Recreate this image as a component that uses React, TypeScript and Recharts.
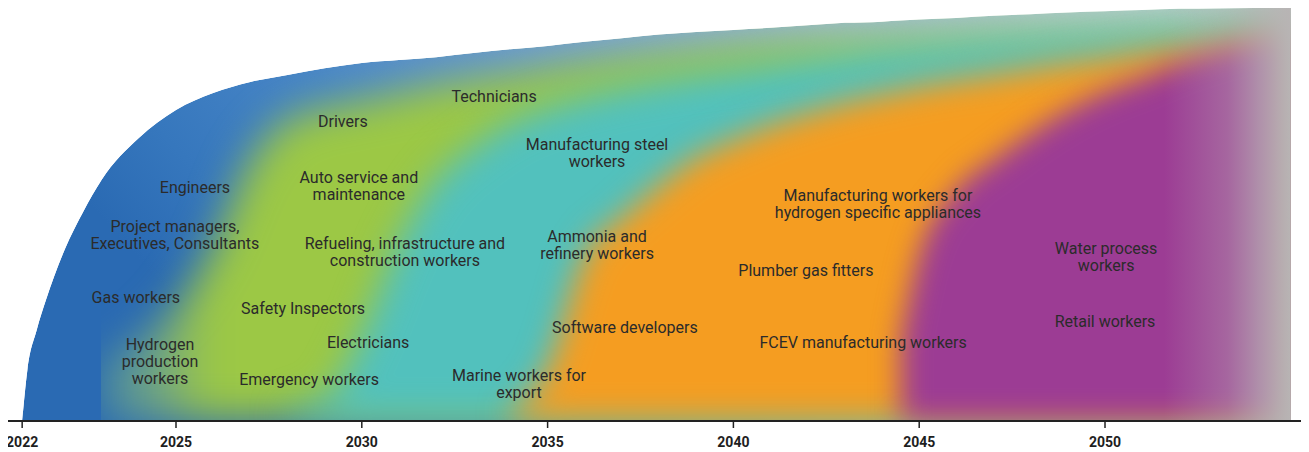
import { ComposedChart, Area, Scatter, XAxis, YAxis } from 'recharts'

// x positions on the year axis (the first point is the "2022" start of the axis)
const YEARS = [
  2020.86, 2021, 2021.25, 2021.5, 2022, 2022.5, 2023, 2024, 2025, 2026, 2027, 2028, 2029, 2030,
  2031, 2032, 2033, 2034, 2035, 2036, 2037, 2038, 2039, 2040, 2041, 2042, 2043, 2044, 2044.5,
  2045, 2046, 2047, 2048, 2049, 2050, 2051, 2052, 2053, 2054, 2055,
]

// outer envelope of the workforce shape
const ENVELOPE = [
  0, 12.3, 22.0, 29.3, 41.4, 50.6, 58.4, 68.5, 75.3, 79.4, 82.1, 83.8, 85.4, 86.7, 87.4, 88.1,
  89.1, 90.0, 90.8, 91.8, 92.7, 93.6, 94.2, 94.7, 95.2, 95.8, 96.4, 96.7, 97.0, 97.2, 97.6, 98.1,
  98.5, 98.9, 99.2, 99.5, 99.8, 99.9, 100, 100,
]

// each wave starts later; values run to 2055
const GREEN = [
  14.3, 19.6, 28.1, 41.9, 62.7, 72.9, 75.8, 77.5, 79.4, 81.4, 82.8, 84.0, 85.5, 86.9, 88.1, 89.1,
  90.1, 91.0, 91.8, 92.7, 93.2, 93.7, 93.9, 94.2, 94.7, 95.4, 95.9, 96.4, 96.9, 97.3, 97.8, 98.3,
  99.0, 99.5,
]
const TEAL = [
  2.7, 5.1, 20.8, 43.3, 58.4, 66.3, 72.2, 75.8, 78.5, 80.6, 82.3, 83.8, 85.0, 86.2, 87.4, 88.4,
  89.6, 89.8, 90.3, 91.0, 91.8, 92.3, 93.0, 93.5, 94.2, 94.9, 95.6, 96.4, 97.1,
]
const ORANGE = [
  2.7, 12.8, 40.2, 49.2, 57.1, 63.9, 68.0, 71.7, 74.6, 77.2, 79.2, 80.1, 81.1, 82.6, 84.0, 85.5,
  86.9, 88.1, 89.6, 90.8, 92.0, 93.5, 94.7,
]
const PURPLE = [19.6, 40.2, 55.9, 63.2, 69.7, 75.3, 79.7, 83.1, 86.9, 89.8, 92.0, 93.5]

const TICK_POS = [2020.86, 2025, 2030, 2035, 2040, 2045, 2050]
const TICK_LABELS = ['2022', '2025', '2030', '2035', '2040', '2045', '2050']

const LABEL_TEXT = [
  ['Technicians'],
  ['Drivers'],
  ['Manufacturing steel', 'workers'],
  ['Engineers'],
  ['Auto service and', 'maintenance'],
  ['Manufacturing workers for', 'hydrogen specific appliances'],
  ['Project managers,', 'Executives, Consultants'],
  ['Refueling, infrastructure and', 'construction workers'],
  ['Ammonia and', 'refinery workers'],
  ['Water process', 'workers'],
  ['Plumber gas fitters'],
  ['Gas workers'],
  ['Safety Inspectors'],
  ['Software developers'],
  ['Retail workers'],
  ['Electricians'],
  ['FCEV manufacturing workers'],
  ['Hydrogen', 'production', 'workers'],
  ['Emergency workers'],
  ['Marine workers for', 'export'],
]
const LABEL_YEAR = [
  2033.56, 2029.49, 2036.33, 2025.51, 2029.92, 2043.89, 2024.97, 2031.16, 2036.33, 2050.03,
  2041.95, 2023.92, 2028.42, 2037.08, 2050.0, 2030.17, 2043.49, 2024.57, 2028.58, 2034.23,
]
const LABEL_LEVEL = [
  78.5, 72.4, 64.8, 56.4, 56.8, 52.4, 44.8, 40.8, 42.5, 39.6, 36.3, 29.8, 27.1, 22.5, 24.0, 18.9,
  18.9, 14.3, 9.9, 8.8,
]

const pad = (vals: number[]) => [...Array(YEARS.length - vals.length).fill(null), ...vals]
const green = pad(GREEN)
const teal = pad(TEAL)
const orange = pad(ORANGE)
const purple = pad(PURPLE)

const rows = YEARS.map((year, i) => ({
  year,
  env: ENVELOPE[i],
  green: green[i],
  teal: teal[i],
  orange: orange[i],
  purple: purple[i],
  mask: [ENVELOPE[i], 100],
}))

const labels = LABEL_TEXT.map((lines, i) => ({
  year: LABEL_YEAR[i],
  level: LABEL_LEVEL[i],
  lines,
}))

function JobLabel(props: any) {
  const { cx, cy, payload } = props
  const lines: string[] = payload.lines
  const lh = 17
  const top = cy - ((lines.length - 1) * lh) / 2 + 5
  return (
    <text textAnchor="middle" fontFamily="Roboto, sans-serif" fontSize={16} fill="#2b2b2b">
      {lines.map((l, i) => (
        <tspan key={i} x={cx} y={top + i * lh}>
          {l}
        </tspan>
      ))}
    </text>
  )
}

export default function App() {
  return (
    // pull the svg over the body margin so the first tick label has room
    <div style={{ width: 1309, height: 452, marginLeft: -8, marginTop: -8 }}>
      <ComposedChart
        width={1309}
        height={452}
        data={rows}
        margin={{ top: 8, right: 4, bottom: 0, left: 8 }}
      >
        <defs>
          <linearGradient id="gBase" x1="0" y1="0.3" x2="1" y2="0">
            <stop offset="0" stopColor="#2a6ab3" />
            <stop offset="0.1" stopColor="#3677bd" />
            <stop offset="0.25" stopColor="#4886c7" />
            <stop offset="0.45" stopColor="#6f9dd4" />
            <stop offset="0.65" stopColor="#97b8da" />
            <stop offset="0.85" stopColor="#b3cad9" />
            <stop offset="1" stopColor="#c2d0d4" />
          </linearGradient>
          <linearGradient id="gGreen" x1="0" y1="0" x2="1" y2="0">
            <stop offset="0" stopColor="#4a8aa0" />
            <stop offset="0.045" stopColor="#6fa386" />
            <stop offset="0.09" stopColor="#9cc845" />
            <stop offset="0.55" stopColor="#9cc845" />
            <stop offset="1" stopColor="#a9cdab" />
          </linearGradient>
          <linearGradient id="gFade" x1="0" y1="0" x2="1" y2="0">
            <stop offset="0" stopColor="#b8b4b4" stopOpacity={0} />
            <stop offset="0.9" stopColor="#b8b4b4" stopOpacity={0} />
            <stop offset="0.95" stopColor="#b8b4b4" stopOpacity={0.35} />
            <stop offset="0.975" stopColor="#b8b4b4" stopOpacity={0.7} />
            <stop offset="1" stopColor="#b8b4b4" stopOpacity={1} />
          </linearGradient>
          <filter id="fGreen" x="0" y="-0.06" width="1" height="1.06" colorInterpolationFilters="sRGB">
            <feGaussianBlur stdDeviation="20" />
          </filter>
          <filter id="fTeal" x="-0.1" y="-0.06" width="1.1" height="1.06" colorInterpolationFilters="sRGB">
            <feGaussianBlur stdDeviation="18" />
          </filter>
          <filter id="fOrange" x="-0.1" y="-0.06" width="1.1" height="1.06" colorInterpolationFilters="sRGB">
            <feGaussianBlur stdDeviation="16" />
          </filter>
          <filter id="fPurple" x="-0.15" y="-0.06" width="1.15" height="1.06" colorInterpolationFilters="sRGB">
            <feGaussianBlur stdDeviation="14" />
          </filter>
        </defs>
        <XAxis
          dataKey="year"
          type="number"
          domain={[2020.479, 2055.382]}
          allowDataOverflow
          ticks={TICK_POS}
          interval={0}
          tickFormatter={(v) => TICK_LABELS[TICK_POS.indexOf(v)]}
          height={31}
          axisLine={{ stroke: '#222', strokeWidth: 2 }}
          tickLine={{ stroke: '#222', strokeWidth: 1.5 }}
          tickSize={7}
          tickMargin={9}
          tick={{ fill: '#1e1e1e', fontSize: 14, fontWeight: 700, fontFamily: 'Roboto, sans-serif' }}
        />
        <YAxis hide domain={[0, 100]} allowDataOverflow />
        <Area type="monotone" dataKey="env" fill="url(#gBase)" fillOpacity={1} stroke="none" dot={false} activeDot={false} isAnimationActive={false} />
        <Area type="monotone" dataKey="green" fill="url(#gGreen)" fillOpacity={1} stroke="none" filter="url(#fGreen)" dot={false} activeDot={false} isAnimationActive={false} />
        <Area type="monotone" dataKey="teal" fill="#52c1bd" fillOpacity={1} stroke="none" filter="url(#fTeal)" dot={false} activeDot={false} isAnimationActive={false} />
        <Area type="monotone" dataKey="orange" fill="#f59d21" fillOpacity={1} stroke="none" filter="url(#fOrange)" dot={false} activeDot={false} isAnimationActive={false} />
        <Area type="monotone" dataKey="purple" fill="#9c3c94" fillOpacity={1} stroke="none" filter="url(#fPurple)" dot={false} activeDot={false} isAnimationActive={false} />
        <Area type="monotone" dataKey="env" fill="url(#gFade)" fillOpacity={1} stroke="none" dot={false} activeDot={false} isAnimationActive={false} />
        <Area type="monotone" dataKey="mask" fill="#ffffff" fillOpacity={1} stroke="none" dot={false} activeDot={false} isAnimationActive={false} />
        <Scatter data={labels} dataKey="level" shape={(p: any) => <JobLabel {...p} />} isAnimationActive={false} />
      </ComposedChart>
    </div>
  )
}
